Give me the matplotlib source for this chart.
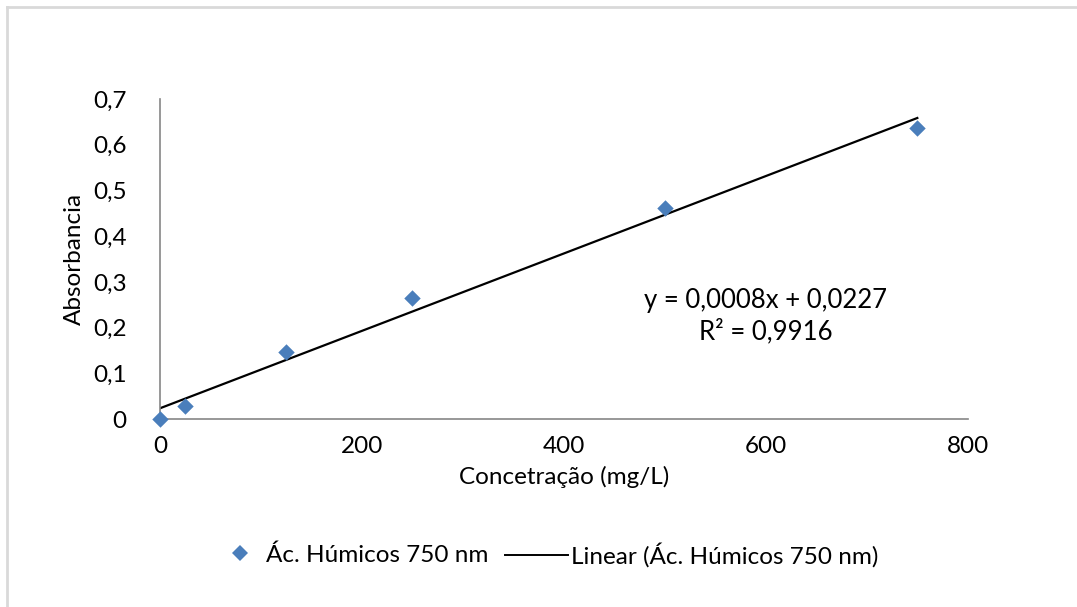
import numpy as np
import matplotlib.pyplot as plt
from matplotlib.lines import Line2D

plt.rcParams['font.family'] = ['Lato', 'DejaVu Sans']

# concentração (mg/L) e absorbância a 750 nm
concentracao = [0, 25, 125, 250, 500, 750]
absorbancia = [0.0, 0.028, 0.147, 0.265, 0.462, 0.636]
y_ticks = [0, 0.1, 0.2, 0.3, 0.4, 0.5, 0.6, 0.7]
x_ticks = [0, 200, 400, 600, 800]
serie = 'Ác. Húmicos 750 nm'
fs = 17.5

fig = plt.figure(figsize=(10.77, 6.07), dpi=100)
ax = fig.add_axes([0.1486, 0.3097, 0.75, 0.5272])

# reta de ajuste por mínimos quadrados
a, b = np.polyfit(concentracao, absorbancia, 1)
xl = np.array([concentracao[0], concentracao[-1]])
ax.plot(xl, a * xl + b, color='black', lw=1.6, zorder=2)
ax.scatter(concentracao, absorbancia, marker='D', s=70, color='#4a7ebb',
           zorder=3, clip_on=False, linewidths=0)

ax.set_xlim(0, 800)
ax.set_ylim(0, 0.7)
ax.set_xticks(x_ticks)
ax.set_yticks(y_ticks)
ax.set_xticklabels([str(v) for v in x_ticks])
ax.set_yticklabels([('%g' % v).replace('.', ',') for v in y_ticks])
ax.tick_params(length=0, labelsize=fs, pad=12)
ax.tick_params(axis='y', pad=24)
for s in ['top', 'right']:
    ax.spines[s].set_visible(False)
for s in ['left', 'bottom']:
    ax.spines[s].set_color('#868686')
    ax.spines[s].set_linewidth(1.2)

ax.set_xlabel('Concetração (mg/L)', fontsize=fs, labelpad=7)
ax.set_ylabel('Absorbancia', fontsize=fs, labelpad=6)

ax.text(600, 0.225, 'y = 0,0008x + 0,0227\nR² = 0,9916', ha='center', va='center',
        fontsize=18.5, linespacing=1.3)

# legenda em duas partes (comprimentos de símbolo diferentes)
h_pts = Line2D([], [], marker='D', ls='none', color='#4a7ebb', markersize=8,
               markeredgewidth=0)
h_lin = Line2D([], [], color='black', lw=1.4)
fig.legend([h_pts], [serie], loc='center left', bbox_to_anchor=(0.2117, 0.086),
           frameon=False, fontsize=fs, handlelength=1.0, handletextpad=0.55,
           borderpad=0, borderaxespad=0)
fig.legend([h_lin], ['Linear (' + serie + ')'], loc='center left',
           bbox_to_anchor=(0.469, 0.086), frameon=False, fontsize=fs,
           handlelength=2.6, handletextpad=0.1, borderpad=0, borderaxespad=0)

# moldura do gráfico
fig.add_artist(Line2D([0.0065, 1], [0.988, 0.988], color='#d9d9d9', lw=2,
                      transform=fig.transFigure))
fig.add_artist(Line2D([0.0065, 0.0065], [0, 0.988], color='#d9d9d9', lw=2,
                      transform=fig.transFigure))

fig.savefig('out.png', dpi=100)
